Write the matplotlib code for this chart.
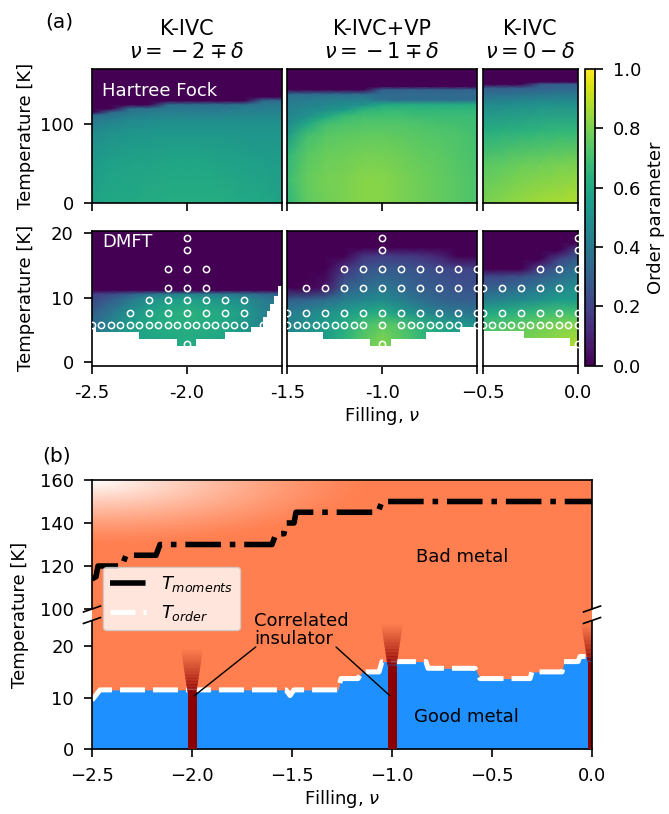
import numpy as np
import matplotlib
matplotlib.use("Agg")
import matplotlib.pyplot as plt
from matplotlib.colors import Normalize
from matplotlib.cm import ScalarMappable

plt.rcParams.update({
    "font.size": 13,
    "axes.linewidth": 1.2,
    "xtick.major.size": 6, "ytick.major.size": 6,
    "xtick.major.width": 1.2, "ytick.major.width": 1.2,
    "xtick.major.pad": 7, "ytick.major.pad": 7,
})

W, H = 669, 814

# ---------------- (a) Hartree-Fock order parameter ----------------
hf_nu_a = [-2.5, -2.4, -2.3, -2.2, -2.1, -2.0, -1.9, -1.8, -1.7, -1.6, -1.5]
hf_t_a = [0, 50, 90, 105, 112, 115, 120, 125, 130, 135, 170]
hf_op_a = [
    [0.58, 0.60, 0.60, 0.61, 0.62, 0.62, 0.62, 0.62, 0.60, 0.60, 0.58],
    [0.55, 0.57, 0.58, 0.58, 0.59, 0.59, 0.59, 0.58, 0.57, 0.56, 0.55],
    [0.48, 0.50, 0.52, 0.53, 0.53, 0.53, 0.53, 0.53, 0.52, 0.52, 0.52],
    [0.40, 0.44, 0.47, 0.48, 0.49, 0.49, 0.49, 0.49, 0.49, 0.49, 0.49],
    [0.35, 0.38, 0.42, 0.44, 0.45, 0.45, 0.45, 0.45, 0.46, 0.46, 0.46],
    [0.00, 0.36, 0.40, 0.42, 0.43, 0.43, 0.43, 0.43, 0.44, 0.45, 0.45],
    [0.00, 0.00, 0.36, 0.38, 0.40, 0.40, 0.40, 0.40, 0.42, 0.42, 0.42],
    [0.00, 0.00, 0.00, 0.00, 0.36, 0.36, 0.36, 0.36, 0.38, 0.40, 0.40],
    [0.00, 0.00, 0.00, 0.00, 0.00, 0.00, 0.00, 0.00, 0.00, 0.35, 0.35],
    [0.00, 0.00, 0.00, 0.00, 0.00, 0.00, 0.00, 0.00, 0.00, 0.00, 0.00],
    [0.00, 0.00, 0.00, 0.00, 0.00, 0.00, 0.00, 0.00, 0.00, 0.00, 0.00],
]

hf_nu_b = [-1.5, -1.4, -1.3, -1.2, -1.1, -1.0, -0.9, -0.8, -0.7, -0.6, -0.5]
hf_t_b = [0, 30, 60, 85, 100, 110, 118, 125, 131, 138, 144, 148, 170]
hf_op_b = [
    [0.65, 0.75, 0.78, 0.80, 0.82, 0.82, 0.80, 0.78, 0.76, 0.74, 0.72],
    [0.68, 0.76, 0.79, 0.80, 0.82, 0.82, 0.80, 0.78, 0.76, 0.74, 0.72],
    [0.66, 0.74, 0.77, 0.78, 0.79, 0.79, 0.78, 0.76, 0.75, 0.73, 0.71],
    [0.55, 0.70, 0.74, 0.75, 0.76, 0.76, 0.75, 0.74, 0.73, 0.72, 0.70],
    [0.48, 0.60, 0.70, 0.72, 0.73, 0.73, 0.73, 0.72, 0.71, 0.70, 0.69],
    [0.46, 0.50, 0.60, 0.68, 0.70, 0.70, 0.70, 0.69, 0.68, 0.68, 0.68],
    [0.44, 0.47, 0.50, 0.55, 0.65, 0.67, 0.67, 0.66, 0.66, 0.66, 0.66],
    [0.42, 0.44, 0.46, 0.48, 0.50, 0.60, 0.62, 0.62, 0.62, 0.62, 0.62],
    [0.40, 0.42, 0.43, 0.44, 0.45, 0.37, 0.35, 0.35, 0.35, 0.35, 0.35],
    [0.36, 0.36, 0.36, 0.36, 0.36, 0.34, 0.34, 0.34, 0.34, 0.34, 0.34],
    [0.00, 0.00, 0.00, 0.00, 0.00, 0.32, 0.32, 0.32, 0.32, 0.32, 0.32],
    [0.00, 0.00, 0.00, 0.00, 0.00, 0.00, 0.00, 0.00, 0.00, 0.00, 0.00],
    [0.00, 0.00, 0.00, 0.00, 0.00, 0.00, 0.00, 0.00, 0.00, 0.00, 0.00],
]

hf_nu_c = [-0.5, -0.4, -0.3, -0.2, -0.1, 0.0]
hf_t_c = [0, 50, 92, 126, 138, 146, 151, 154, 170]
hf_op_c = [
    [0.80, 0.82, 0.84, 0.86, 0.87, 0.88],
    [0.74, 0.75, 0.77, 0.78, 0.79, 0.80],
    [0.62, 0.63, 0.64, 0.65, 0.66, 0.66],
    [0.47, 0.48, 0.49, 0.50, 0.50, 0.50],
    [0.36, 0.37, 0.38, 0.39, 0.40, 0.40],
    [0.30, 0.30, 0.30, 0.32, 0.33, 0.33],
    [0.00, 0.00, 0.00, 0.28, 0.30, 0.30],
    [0.00, 0.00, 0.00, 0.00, 0.00, 0.00],
    [0.00, 0.00, 0.00, 0.00, 0.00, 0.00],
]

# ---------------- (a) DMFT order parameter ----------------
dmft_nu_a = [-2.5, -2.4, -2.3, -2.2, -2.1, -2.0, -1.9, -1.8, -1.7, -1.6, -1.5]
dmft_t_a = [2.6, 5.8, 7.7, 9.7, 10.6, 11.2, 20.5]
dmft_op_a = [
    [0.45, 0.50, 0.55, 0.58, 0.60, 0.62, 0.60, 0.58, 0.55, 0.50, 0.45],
    [0.35, 0.45, 0.55, 0.60, 0.62, 0.62, 0.62, 0.60, 0.52, 0.45, 0.40],
    [0.30, 0.40, 0.50, 0.58, 0.62, 0.64, 0.62, 0.60, 0.55, 0.45, 0.40],
    [0.22, 0.30, 0.40, 0.50, 0.55, 0.57, 0.55, 0.52, 0.48, 0.42, 0.38],
    [0.18, 0.22, 0.30, 0.38, 0.42, 0.45, 0.42, 0.40, 0.38, 0.33, 0.30],
    [0.00, 0.00, 0.00, 0.00, 0.00, 0.00, 0.00, 0.00, 0.00, 0.00, 0.00],
    [0.00, 0.00, 0.00, 0.00, 0.00, 0.00, 0.00, 0.00, 0.00, 0.00, 0.00],
]
floor_nu_a = [-2.5, -2.475, -2.25, -2.05, -1.95, -1.8, -1.66, -1.6, -1.58, -1.56, -1.54, -1.52, -1.5]
floor_t_a = [5.3, 4.7, 3.7, 2.6, 3.7, 4.7, 5.5, 7.0, 8.0, 9.0, 10.3, 11.8, 11.8]
points_a = {
    2.9: [-2.0],
    5.8: [-2.5, -2.45, -2.4, -2.35, -2.3, -2.25, -2.2, -2.15, -2.1, -2.05,
          -2.0, -1.95, -1.9, -1.85, -1.8, -1.75, -1.7, -1.6],
    7.7: [-2.3, -2.2, -2.1, -2.0, -1.9, -1.8, -1.7],
    9.7: [-2.2, -2.1, -2.0, -1.9, -1.8, -1.7],
    11.6: [-2.1, -2.0, -1.9],
    14.5: [-2.1, -2.0, -1.9],
    17.4: [-2.0],
    19.3: [-2.0],
}

dmft_nu_b = [-1.5, -1.4, -1.3, -1.2, -1.1, -1.0, -0.9, -0.8, -0.7, -0.6, -0.5]
dmft_t_b = [2.6, 5.8, 7.7, 9.7, 11.6, 14.5, 16.5, 17.8, 20.5]
dmft_op_b = [
    [0.45, 0.50, 0.55, 0.65, 0.75, 0.82, 0.75, 0.68, 0.60, 0.55, 0.50],
    [0.45, 0.50, 0.55, 0.62, 0.70, 0.75, 0.72, 0.65, 0.60, 0.55, 0.50],
    [0.42, 0.45, 0.50, 0.55, 0.60, 0.62, 0.55, 0.48, 0.42, 0.40, 0.38],
    [0.30, 0.32, 0.35, 0.42, 0.45, 0.48, 0.42, 0.36, 0.32, 0.30, 0.30],
    [0.00, 0.00, 0.05, 0.30, 0.35, 0.40, 0.35, 0.30, 0.28, 0.26, 0.25],
    [0.00, 0.00, 0.00, 0.15, 0.25, 0.28, 0.27, 0.25, 0.22, 0.20, 0.20],
    [0.00, 0.00, 0.00, 0.00, 0.15, 0.18, 0.17, 0.15, 0.10, 0.00, 0.00],
    [0.00, 0.00, 0.00, 0.00, 0.00, 0.00, 0.00, 0.00, 0.00, 0.00, 0.00],
    [0.00, 0.00, 0.00, 0.00, 0.00, 0.00, 0.00, 0.00, 0.00, 0.00, 0.00],
]
floor_nu_b = [-1.5, -1.31, -1.065, -0.955, -0.77, -0.59, -0.5]
floor_t_b = [4.7, 3.7, 2.6, 3.7, 4.7, 5.5, 5.5]
points_b = {
    2.9: [-1.0],
    5.8: [-1.5, -1.45, -1.4, -1.35, -1.3, -1.25, -1.2, -1.15, -1.1, -1.0,
          -0.9, -0.85, -0.8, -0.75, -0.7, -0.65, -0.6, -0.5],
    7.7: [-1.5, -1.4, -1.3, -1.2, -1.1, -1.0, -0.9, -0.8, -0.7, -0.6, -0.5],
    11.6: [-1.4, -1.3, -1.2, -1.1, -1.0, -0.9, -0.8, -0.7, -0.6, -0.5],
    14.5: [-1.2, -1.1, -1.0, -0.9, -0.8, -0.7, -0.6, -0.5],
    17.4: [-1.0],
    19.3: [-1.0],
}

dmft_nu_c = [-0.5, -0.4, -0.3, -0.2, -0.1, 0.0]
dmft_t_c = [2.6, 5.8, 7.7, 9.7, 11.6, 13.3, 14.5, 16.0, 17.4, 18.6, 20.5]
dmft_op_c = [
    [0.75, 0.78, 0.80, 0.82, 0.85, 0.88],
    [0.70, 0.72, 0.75, 0.78, 0.80, 0.82],
    [0.60, 0.62, 0.65, 0.68, 0.70, 0.70],
    [0.42, 0.45, 0.48, 0.50, 0.55, 0.55],
    [0.30, 0.32, 0.35, 0.40, 0.45, 0.50],
    [0.22, 0.22, 0.25, 0.30, 0.35, 0.42],
    [0.00, 0.00, 0.00, 0.20, 0.30, 0.38],
    [0.00, 0.00, 0.00, 0.00, 0.20, 0.30],
    [0.00, 0.00, 0.00, 0.00, 0.00, 0.20],
    [0.00, 0.00, 0.00, 0.00, 0.00, 0.00],
    [0.00, 0.00, 0.00, 0.00, 0.00, 0.00],
]
floor_nu_c = [-0.5, -0.285, -0.04, 0.0]
floor_t_c = [4.8, 3.8, 2.6, 2.6]
points_c = {
    2.9: [0.0],
    5.8: [-0.5, -0.45, -0.4, -0.35, -0.3, -0.25, -0.2, -0.15, -0.1, -0.05, 0.0],
    7.7: [-0.5, -0.4, -0.3, -0.2, -0.1, 0.0],
    11.6: [-0.5, -0.4, -0.3, -0.2, -0.1, 0.0],
    14.5: [-0.2, -0.1, 0.0],
    17.4: [0.0],
    19.3: [0.0],
}

titles = ["K-IVC\n$\\nu = {}-2 \\mp \\delta$",
          "K-IVC+VP\n$\\nu = {}-1 \\mp \\delta$",
          "K-IVC\n$\\nu = 0 - \\delta$"]
xticks = [[-2.5, -2.0, -1.5], [-1.5, -1.0, -0.5], [-0.5, 0.0]]
xticklabels = [["-2.5", "-2.0", ""], ["-1.5", "-1.0", ""], ["\u22120.5", "0.0"]]

# ---------------- (b) phase diagram ----------------
nu_moments = [-2.5, -2.48, -2.47, -2.35, -2.33, -2.18, -2.16, -1.6, -1.58,
              -1.54, -1.53, -1.49, -1.48, -1.07, -1.05, 0.0]
t_moments = [114, 115, 120, 120, 125, 125, 130, 130, 135, 135, 140, 140,
             145, 145, 150, 150]
nu_order = [-2.5, -2.46, -1.53, -1.51, -1.49, -1.27, -1.255, -1.17, -1.15,
            -1.065, -1.05, -0.83, -0.82, -0.585, -0.56, -0.31, -0.30, -0.15,
            -0.14, -0.07, -0.06, 0.0]
t_order = [9.5, 11.5, 11.5, 10.4, 11.5, 11.5, 13.7, 13.7, 15.0, 15.0, 17.0,
           17.0, 15.7, 15.7, 13.7, 13.7, 15.0, 15.0, 17.0, 17.0, 18.0, 18.0]
ci_nu = [-2.0, -1.0, 0.0]
ci_top = [11.0, 16.2, 17.0]
ci_fade = [19.5, 24.5, 24.5]

# piecewise-linear temperature axis with a compressed 25-100 K window
T_KNOTS = [-100, 0, 25, 100, 160, 400]
Y_KNOTS = [-514, 0, 128.5, 140, 269, 785]


def fwd(t):
    return np.interp(t, T_KNOTS, Y_KNOTS)


def inv(y):
    return np.interp(y, Y_KNOTS, T_KNOTS)


def add_axes_px(fig, x0, y0, x1, y1):
    return fig.add_axes([x0 / W, 1 - y1 / H, (x1 - x0) / W, (y1 - y0) / H])


fig = plt.figure(figsize=(W / 100, H / 100), dpi=100)

cols = [(91.7, 281.7), (287.3, 477.0), (482.7, 577.7)]
hf_data = [(hf_nu_a, hf_t_a, hf_op_a), (hf_nu_b, hf_t_b, hf_op_b), (hf_nu_c, hf_t_c, hf_op_c)]
dmft_data = [(dmft_nu_a, dmft_t_a, dmft_op_a, floor_nu_a, floor_t_a, points_a),
             (dmft_nu_b, dmft_t_b, dmft_op_b, floor_nu_b, floor_t_b, points_b),
             (dmft_nu_c, dmft_t_c, dmft_op_c, floor_nu_c, floor_t_c, points_c)]

for i, (x0, x1) in enumerate(cols):
    ax_hf = add_axes_px(fig, x0, 69, x1, 203.3)
    nu, t, op = hf_data[i]
    ax_hf.pcolormesh(nu, t, op, shading="gouraud", cmap="viridis", vmin=0, vmax=1)
    ax_hf.set_xlim(nu[0], nu[-1])
    ax_hf.set_ylim(0, 170)
    ax_hf.set_xticks(xticks[i])
    ax_hf.set_xticklabels([])
    ax_hf.set_title(titles[i], fontsize=15, pad=8)

    ax_d = add_axes_px(fig, x0, 230.7, x1, 365.7)
    nu, t, op, fnu, ft, pts = dmft_data[i]
    ax_d.pcolormesh(nu, t, op, shading="gouraud", cmap="viridis", vmin=0, vmax=1)
    ax_d.fill_between(fnu, -1, ft, step="post", color="white", lw=0, zorder=2)
    for temp, nus in pts.items():
        ax_d.plot(nus, [temp] * len(nus), "o", ms=4.5, mfc="none", mec="white",
                  mew=1.1, zorder=3)
    ax_d.set_xlim(nu[0], nu[-1])
    ax_d.set_ylim(-0.5, 20.4)
    ax_d.set_xticks(xticks[i])
    ax_d.set_xticklabels(xticklabels[i])

    if i == 0:
        ax_hf.set_yticks([0, 100])
        ax_d.set_yticks([0, 10, 20])
        ax_hf.set_ylabel("Temperature [K]")
        ax_d.set_ylabel("Temperature [K]")
        ax_hf.yaxis.set_label_coords(-0.30, 0.5)
        ax_d.yaxis.set_label_coords(-0.30, 0.5)
        ax_hf.text(0.054, 0.836, "Hartree Fock", color="white",
                   transform=ax_hf.transAxes, va="center")
        ax_d.text(0.054, 0.916, "DMFT", color="white",
                  transform=ax_d.transAxes, va="center")
    else:
        ax_hf.tick_params(left=False, labelleft=False)
        ax_d.tick_params(left=False, labelleft=False)
    if i == 1:
        ax_d.set_xlabel("Filling, $\\nu$", labelpad=2)

cax = add_axes_px(fig, 584.5, 69, 595, 365.7)
cb = fig.colorbar(ScalarMappable(norm=Normalize(0, 1), cmap="viridis"), cax=cax)
cb.set_ticks([0.0, 0.2, 0.4, 0.6, 0.8, 1.0])
cb.set_label("Order parameter")
cb.outline.set_linewidth(1.2)

fig.text(59 / W, 1 - 22 / H, "(a)", ha="center", va="center", fontsize=14.5)
fig.text(57 / W, 1 - 456 / H, "(b)", ha="center", va="center", fontsize=14.5)

# ---------------- bottom panel ----------------
axb = add_axes_px(fig, 92, 480, 592, 749)
axb.set_yscale("function", functions=(fwd, inv))
axb.set_facecolor("coral")

# pale glow in the top-left corner of the bad-metal region
gx, gy = np.meshgrid(np.linspace(0, 1, 300), np.linspace(0, 1, 200))
r = np.hypot(gx / 0.56, (1 - gy) / 0.24)
glow = np.ones((200, 300, 4))
glow[..., 3] = np.clip(1 - r, 0, 1) ** 1.3
axb.imshow(glow, extent=[0, 1, 0, 1], origin="lower", transform=axb.transAxes,
           aspect="auto", zorder=0.5, interpolation="bilinear")

axb.fill_between(nu_order, 0, t_order, color="dodgerblue", lw=0, zorder=1)
l_mom, = axb.plot(nu_moments, t_moments, color="black", lw=4, ls="-.", zorder=3)
l_ord, = axb.plot(nu_order, t_order, color="white", lw=3.6, zorder=3,
                  dashes=(5, 1.6))

for x, t0, t1 in zip(ci_nu, ci_top, ci_fade):
    axb.bar(x, t0, width=0.045, color="darkred", zorder=4)
    n = 30
    edges = np.linspace(t0, t1, n + 1)
    widths = np.linspace(0.045, 0.11, n + 1)
    for k in range(n):
        xs = [x - widths[k] / 2, x + widths[k] / 2, x + widths[k + 1] / 2, x - widths[k + 1] / 2]
        ys = [edges[k], edges[k], edges[k + 1], edges[k + 1]]
        axb.fill(xs, ys, color="darkred", alpha=(1 - k / n) ** 1.2, lw=0, zorder=4)

axb.set_xlim(-2.5, 0.0)
axb.set_ylim(0, 160)
axb.set_xticks([-2.5, -2.0, -1.5, -1.0, -0.5, 0.0])
axb.set_yticks([0, 10, 20, 100, 120, 140, 160])
axb.set_xlabel("Filling, $\\nu$", labelpad=2)
axb.set_ylabel("Temperature [K]")
axb.yaxis.set_label_coords(-0.125, 0.5)

axb.text(-0.65, 124, "Bad metal", ha="center", va="center", zorder=5)
axb.text(-0.63, 6.3, "Good metal", ha="center", va="center", zorder=5)
axb.text(-1.69, 19.6, "Correlated\ninsulator", ha="left", va="bottom",
         linespacing=1.0, zorder=5)
axb.annotate("", xy=(-2.0, 10), xytext=(-1.67, 20.2),
             arrowprops=dict(arrowstyle="-", lw=1, color="black"), zorder=5)
axb.annotate("", xy=(-1.0, 10), xytext=(-1.29, 20.2),
             arrowprops=dict(arrowstyle="-", lw=1, color="black"), zorder=5)

leg = axb.legend([l_mom, l_ord], ["$T_{moments}$", "$T_{order}$"],
                 loc="upper left", bbox_to_anchor=(0.022, 0.677), borderaxespad=0)
leg.set_zorder(6)

# broken left/right spines with slash marks
axb.spines["left"].set_visible(False)
axb.spines["right"].set_visible(False)
lo = fwd(25) / fwd(160)
hi = fwd(100) / fwd(160)
for xs in (0, 1):
    axb.plot([xs, xs], [0, lo], transform=axb.transAxes, color="black", lw=1.2, clip_on=False, zorder=7)
    axb.plot([xs, xs], [hi, 1], transform=axb.transAxes, color="black", lw=1.2, clip_on=False, zorder=7)
    for yb in (lo, hi):
        axb.plot([xs - 0.017, xs + 0.017], [yb - 0.011, yb + 0.011], transform=axb.transAxes,
                 color="black", lw=1.2, clip_on=False, zorder=7)

fig.savefig("out.png", dpi=100)
